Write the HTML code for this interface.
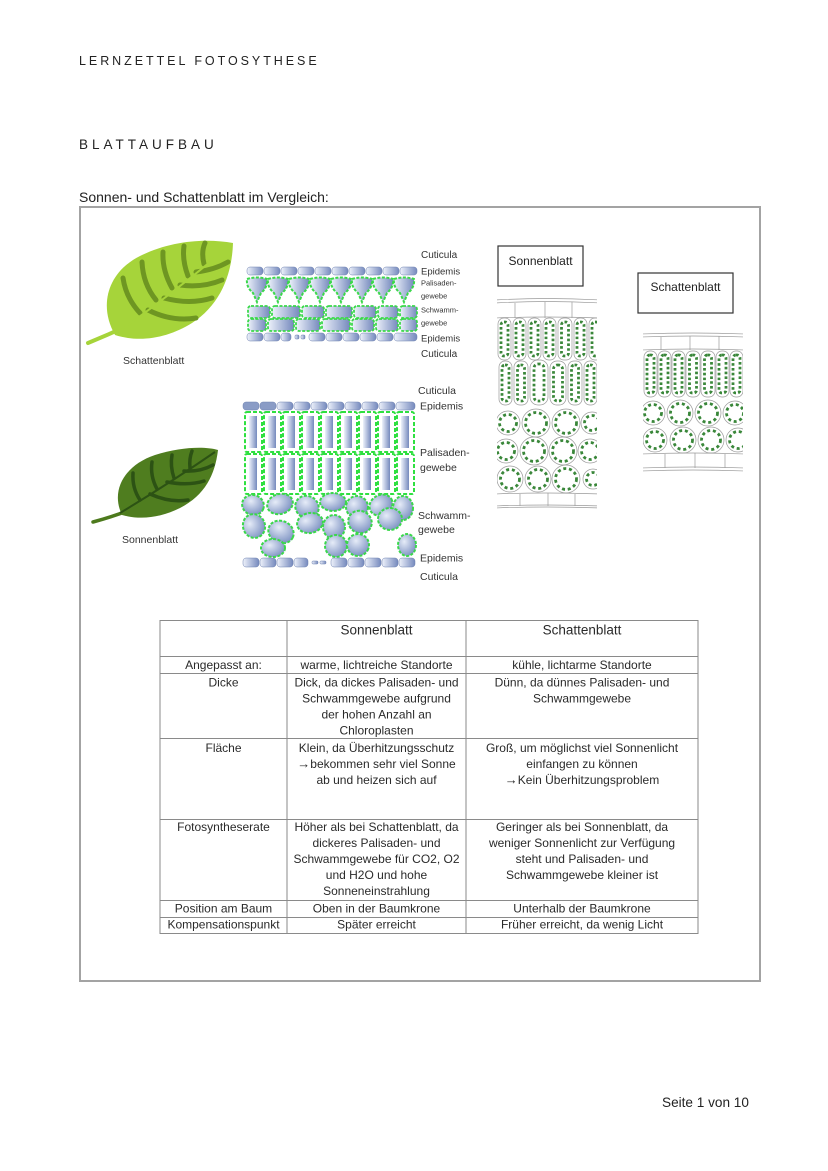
<!DOCTYPE html>
<html><head><meta charset="utf-8"><style>
html,body{margin:0;padding:0;background:#fff;}
body{width:828px;height:1171px;overflow:hidden;}
svg{display:block;font-family:"Liberation Sans",Arial,sans-serif;}
</style></head><body>
<svg width="828" height="1171" viewBox="0 0 828 1171" xmlns="http://www.w3.org/2000/svg">
<defs>
 <linearGradient id="cg" x1="0" y1="0" x2="1" y2="0"><stop offset="0" stop-color="#eef2fb"/><stop offset="1" stop-color="#7589bd"/></linearGradient>
 <radialGradient id="bg" cx="0.35" cy="0.35" r="0.8"><stop offset="0" stop-color="#e6ecf8"/><stop offset="1" stop-color="#6f86bb"/></radialGradient>
 <clipPath id="c1"><rect x="497" y="296" width="100" height="214"/></clipPath>
 <clipPath id="c2"><rect x="643" y="330" width="100" height="144"/></clipPath>
</defs>

<!-- headings -->
<text x="79" y="65" font-size="12.5" letter-spacing="2.95" fill="#222">LERNZETTEL FOTOSYTHESE</text>
<text x="79" y="149" font-size="13.5" letter-spacing="4" fill="#222">BLATTAUFBAU</text>
<text x="79" y="202" font-size="14" fill="#222">Sonnen- und Schattenblatt im Vergleich:</text>

<!-- outer box -->
<rect x="80" y="207" width="680" height="774" fill="none" stroke="#a3a3a3" stroke-width="2"/>

<!-- Leaf 1 (Schattenblatt) -->
<path d="M88,343 Q120,330 150,315" stroke="#a6d43a" stroke-width="4" fill="none" stroke-linecap="round"/>
<path d="M115,335 C98,305 108,272 140,256 C170,241 205,238 233,243 C232,275 220,305 192,323 C168,338 140,343 115,335 Z" fill="#a6d43a"/>
<g stroke="#6e9622" stroke-width="5" stroke-linecap="round" fill="none">
 <path d="M140,313 Q126,298 123,278"/>
 <path d="M156,300 Q143,284 142,262"/>
 <path d="M172,288 Q162,270 163,252"/>
 <path d="M188,276 Q182,260 184,246"/>
 <path d="M204,264 Q201,252 205,243"/>
 <path d="M148,310 Q172,322 196,318"/>
 <path d="M164,298 Q190,305 212,298"/>
 <path d="M180,285 Q203,288 222,280"/>
 <path d="M196,272 Q214,270 228,262"/>
</g>
<path d="M118,332 Q175,292 228,247" stroke="#a6d43a" stroke-width="2" fill="none"/>
<text x="123" y="364" font-size="10.5" fill="#333">Schattenblatt</text>

<!-- Leaf 2 (Sonnenblatt) -->
<path d="M93,522 Q115,516 135,508" stroke="#4d7a1d" stroke-width="3.5" fill="none" stroke-linecap="round"/>
<path d="M122,515 C110,490 125,465 155,455 C180,447 205,446 218,450 C215,475 205,495 180,508 C160,518 140,520 122,515 Z" fill="#4f7d1f"/>
<g stroke="#2c5214" stroke-width="3.5" stroke-linecap="round" fill="none">
 <path d="M140,500 Q132,488 133,473"/>
 <path d="M157,489 Q150,476 152,462"/>
 <path d="M174,478 Q170,466 172,455"/>
 <path d="M190,468 Q189,459 192,451"/>
 <path d="M150,494 Q170,503 188,500"/>
 <path d="M167,482 Q188,486 204,481"/>
 <path d="M184,471 Q200,472 213,465"/>
</g>
<path d="M120,513 Q170,483 215,452" stroke="#2c5214" stroke-width="2" fill="none"/>
<text x="122" y="543" font-size="10.5" fill="#333">Sonnenblatt</text>

<!-- Cross section 1 (small, Schatten) -->
<g stroke="#6f82b0" stroke-width="0.5" fill="url(#cg)">
 <rect x="247" y="267" width="16" height="8" rx="3"/><rect x="264" y="267" width="16" height="8" rx="3"/>
 <rect x="281" y="267" width="16" height="8" rx="3"/><rect x="298" y="267" width="16" height="8" rx="3"/>
 <rect x="315" y="267" width="16" height="8" rx="3"/><rect x="332" y="267" width="16" height="8" rx="3"/>
 <rect x="349" y="267" width="16" height="8" rx="3"/><rect x="366" y="267" width="16" height="8" rx="3"/>
 <rect x="383" y="267" width="16" height="8" rx="3"/><rect x="400" y="267" width="17" height="8" rx="3"/>
</g>
<g fill="url(#cg)" stroke="#3ad84a" stroke-width="2" stroke-dasharray="3 1.5">
 <path d="M247,279 Q257,276 267,279 Q268,287 261,293 L257,302 L253,293 Q246,287 247,279 Z"/>
 <path d="M268,279 Q278,276 288,279 Q289,287 282,293 L278,302 L274,293 Q267,287 268,279 Z"/>
 <path d="M289,279 Q299,276 309,279 Q310,287 303,293 L299,302 L295,293 Q288,287 289,279 Z"/>
 <path d="M310,279 Q320,276 330,279 Q331,287 324,293 L320,302 L316,293 Q309,287 310,279 Z"/>
 <path d="M331,279 Q341,276 351,279 Q352,287 345,293 L341,302 L337,293 Q330,287 331,279 Z"/>
 <path d="M352,279 Q362,276 372,279 Q373,287 366,293 L362,302 L358,293 Q351,287 352,279 Z"/>
 <path d="M373,279 Q383,276 393,279 Q394,287 387,293 L383,302 L379,293 Q372,287 373,279 Z"/>
 <path d="M394,279 Q404,276 414,279 Q415,287 408,293 L404,302 L400,293 Q393,287 394,279 Z"/>
</g>
<g fill="url(#cg)" stroke="#3ad84a" stroke-width="1.8" stroke-dasharray="3 1.5">
 <rect x="248" y="306" width="22" height="12" rx="3"/><rect x="272" y="306" width="28" height="12" rx="3"/>
 <rect x="302" y="306" width="22" height="12" rx="3"/><rect x="326" y="306" width="26" height="12" rx="3"/>
 <rect x="354" y="306" width="22" height="12" rx="3"/><rect x="378" y="306" width="20" height="12" rx="3"/>
 <rect x="400" y="306" width="17" height="12" rx="3"/>
 <rect x="248" y="319" width="18" height="12" rx="3"/><rect x="268" y="319" width="26" height="12" rx="3"/>
 <rect x="296" y="319" width="24" height="12" rx="3"/><rect x="322" y="319" width="28" height="12" rx="3"/>
 <rect x="352" y="319" width="22" height="12" rx="3"/><rect x="376" y="319" width="22" height="12" rx="3"/>
 <rect x="400" y="319" width="17" height="12" rx="3"/>
</g>
<g stroke="#6f82b0" stroke-width="0.5" fill="url(#cg)">
 <rect x="247" y="333" width="16" height="8" rx="3"/><rect x="264" y="333" width="16" height="8" rx="3"/>
 <rect x="281" y="333" width="10" height="8" rx="3"/>
 <rect x="295" y="335" width="4" height="4" rx="1"/><rect x="301" y="335" width="4" height="4" rx="1"/>
 <rect x="309" y="333" width="16" height="8" rx="3"/><rect x="326" y="333" width="16" height="8" rx="3"/>
 <rect x="343" y="333" width="16" height="8" rx="3"/><rect x="360" y="333" width="16" height="8" rx="3"/>
 <rect x="377" y="333" width="16" height="8" rx="3"/><rect x="394" y="333" width="23" height="8" rx="3"/>
</g>
<g fill="#333">
 <text x="421" y="258" font-size="10">Cuticula</text>
 <text x="421" y="274.5" font-size="9.5">Epidemis</text>
 <text x="421" y="285.5" font-size="7.5">Palisaden-</text>
 <text x="421" y="298.5" font-size="7.5">gewebe</text>
 <text x="421" y="312.5" font-size="7.5">Schwamm-</text>
 <text x="421" y="325.5" font-size="7.5">gewebe</text>
 <text x="421" y="341.5" font-size="9.5">Epidemis</text>
 <text x="421" y="357" font-size="10">Cuticula</text>
</g>

<!-- Cross section 2 (big, Sonnen) -->
<g stroke="#6f82b0" stroke-width="0.5" fill="url(#cg)">
 <rect x="243" y="402" width="16" height="8" rx="3" fill="#8a9cc6"/><rect x="260" y="402" width="16" height="8" rx="3" fill="#8a9cc6"/>
 <rect x="277" y="402" width="16" height="8" rx="3"/><rect x="294" y="402" width="16" height="8" rx="3"/>
 <rect x="311" y="402" width="16" height="8" rx="3"/><rect x="328" y="402" width="16" height="8" rx="3"/>
 <rect x="345" y="402" width="16" height="8" rx="3"/><rect x="362" y="402" width="16" height="8" rx="3"/>
 <rect x="379" y="402" width="16" height="8" rx="3"/><rect x="396" y="402" width="19" height="8" rx="3"/>
</g>
<g>
 <g fill="url(#cg)">
  <rect x="249" y="416" width="8" height="32"/><rect x="268" y="416" width="8" height="32"/><rect x="287" y="416" width="8" height="32"/>
  <rect x="306" y="416" width="8" height="32"/><rect x="325" y="416" width="8" height="32"/><rect x="344" y="416" width="8" height="32"/>
  <rect x="363" y="416" width="8" height="32"/><rect x="382" y="416" width="8" height="32"/><rect x="401" y="416" width="8" height="32"/>
  <rect x="249" y="458" width="8" height="32"/><rect x="268" y="458" width="8" height="32"/><rect x="287" y="458" width="8" height="32"/>
  <rect x="306" y="458" width="8" height="32"/><rect x="325" y="458" width="8" height="32"/><rect x="344" y="458" width="8" height="32"/>
  <rect x="363" y="458" width="8" height="32"/><rect x="382" y="458" width="8" height="32"/><rect x="401" y="458" width="8" height="32"/>
 </g>
 <g fill="none" stroke="#2fe040" stroke-width="2" stroke-dasharray="4 2">
  <rect x="245" y="412" width="17" height="40" rx="2"/><rect x="264" y="412" width="17" height="40" rx="2"/><rect x="283" y="412" width="17" height="40" rx="2"/>
  <rect x="302" y="412" width="17" height="40" rx="2"/><rect x="321" y="412" width="17" height="40" rx="2"/><rect x="340" y="412" width="17" height="40" rx="2"/>
  <rect x="359" y="412" width="17" height="40" rx="2"/><rect x="378" y="412" width="17" height="40" rx="2"/><rect x="397" y="412" width="17" height="40" rx="2"/>
  <rect x="245" y="454" width="17" height="40" rx="2"/><rect x="264" y="454" width="17" height="40" rx="2"/><rect x="283" y="454" width="17" height="40" rx="2"/>
  <rect x="302" y="454" width="17" height="40" rx="2"/><rect x="321" y="454" width="17" height="40" rx="2"/><rect x="340" y="454" width="17" height="40" rx="2"/>
  <rect x="359" y="454" width="17" height="40" rx="2"/><rect x="378" y="454" width="17" height="40" rx="2"/><rect x="397" y="454" width="17" height="40" rx="2"/>
 </g>
</g>
<g fill="url(#bg)" stroke="#3ad84a" stroke-width="2" stroke-dasharray="3 1.5">
 <ellipse cx="253" cy="505" rx="11" ry="10" transform="rotate(20 253 505)"/>
 <ellipse cx="280" cy="504" rx="13" ry="10" transform="rotate(-15 280 504)"/>
 <ellipse cx="307" cy="507" rx="12" ry="11" transform="rotate(30 307 507)"/>
 <ellipse cx="333" cy="502" rx="13" ry="9"/>
 <ellipse cx="357" cy="507" rx="11" ry="11"/>
 <ellipse cx="381" cy="505" rx="12" ry="10" transform="rotate(-30 381 505)"/>
 <ellipse cx="403" cy="508" rx="10" ry="12"/>
 <ellipse cx="254" cy="526" rx="11" ry="12" transform="rotate(-20 254 526)"/>
 <ellipse cx="281" cy="532" rx="13" ry="11" transform="rotate(25 281 532)"/>
 <ellipse cx="310" cy="523" rx="13" ry="10" transform="rotate(-10 310 523)"/>
 <ellipse cx="334" cy="527" rx="11" ry="12"/>
 <ellipse cx="360" cy="522" rx="12" ry="11" transform="rotate(30 360 522)"/>
 <ellipse cx="390" cy="519" rx="12" ry="11"/>
 <ellipse cx="273" cy="548" rx="12" ry="9"/>
 <ellipse cx="336" cy="546" rx="11" ry="11"/>
 <ellipse cx="358" cy="545" rx="11" ry="11" transform="rotate(20 358 545)"/>
 <ellipse cx="407" cy="545" rx="9" ry="11"/>
</g>
<g stroke="#6f82b0" stroke-width="0.5" fill="url(#cg)">
 <rect x="243" y="558" width="16" height="9" rx="3"/><rect x="260" y="558" width="16" height="9" rx="3"/>
 <rect x="277" y="558" width="16" height="9" rx="3"/><rect x="294" y="558" width="14" height="9" rx="3"/>
 <rect x="312" y="561" width="6" height="3" rx="1"/><rect x="320" y="561" width="6" height="3" rx="1"/>
 <rect x="331" y="558" width="16" height="9" rx="3"/><rect x="348" y="558" width="16" height="9" rx="3"/>
 <rect x="365" y="558" width="16" height="9" rx="3"/><rect x="382" y="558" width="16" height="9" rx="3"/>
 <rect x="399" y="558" width="16" height="9" rx="3"/>
</g>
<g fill="#333" font-size="10.5">
 <text x="418" y="394">Cuticula</text>
 <text x="420" y="409.5">Epidemis</text>
 <text x="420" y="456">Palisaden-</text>
 <text x="420" y="471">gewebe</text>
 <text x="418" y="519">Schwamm-</text>
 <text x="418" y="533">gewebe</text>
 <text x="420" y="561.5">Epidemis</text>
 <text x="420" y="580">Cuticula</text>
</g>

<!-- Label boxes -->
<rect x="498" y="246" width="85" height="40" fill="#fff" stroke="#333" stroke-width="1.2"/>
<text x="540.5" y="265" font-size="12" text-anchor="middle" fill="#222">Sonnenblatt</text>
<rect x="638" y="273" width="95" height="40" fill="#fff" stroke="#333" stroke-width="1.2"/>
<text x="685.5" y="291" font-size="12" text-anchor="middle" fill="#222">Schattenblatt</text>

<!-- Micrograph Sonnenblatt -->
<g clip-path="url(#c1)">
 <g fill="none" stroke="#9a9a9a" stroke-width="0.7">
  <path d="M495,300 Q547,297 600,300"/><path d="M495,303 Q547,300 600,303"/>
  <path d="M515,303 V318 M545,302 V318 M572,302 V318"/>
  <path d="M495,318 Q547,316 600,318"/>
  <rect x="498" y="318" width="13" height="42" rx="6"/><rect x="513" y="318" width="13" height="42" rx="6"/>
  <rect x="528" y="318" width="13" height="42" rx="6"/><rect x="543" y="318" width="13" height="42" rx="6"/>
  <rect x="558" y="318" width="14" height="42" rx="6"/><rect x="574" y="318" width="13" height="42" rx="6"/>
  <rect x="589" y="318" width="13" height="42" rx="6"/>
  <rect x="499" y="361" width="13" height="44" rx="6"/><rect x="514" y="361" width="14" height="44" rx="6"/>
  <rect x="530" y="360" width="18" height="45" rx="8"/><rect x="550" y="361" width="16" height="44" rx="7"/>
  <rect x="568" y="361" width="14" height="44" rx="6"/><rect x="584" y="361" width="13" height="44" rx="6"/>
  <circle cx="508" cy="423" r="12"/><circle cx="536" cy="423" r="14"/><circle cx="566" cy="423" r="14"/><circle cx="592" cy="423" r="11"/>
  <circle cx="506" cy="451" r="12"/><circle cx="534" cy="451" r="14"/><circle cx="563" cy="451" r="14"/><circle cx="590" cy="451" r="12"/>
  <circle cx="510" cy="479" r="13"/><circle cx="538" cy="479" r="13"/><circle cx="566" cy="479" r="14"/><circle cx="593" cy="479" r="10"/>
  <path d="M495,494 Q547,492 600,494"/>
  <path d="M520,494 V506 M548,493 V506 M575,494 V506"/>
  <path d="M495,506 Q547,504 600,506"/><path d="M495,508 Q547,506 600,508"/>
 </g>
 <g fill="none" stroke="#3a873a" stroke-width="2.8" stroke-dasharray="2.6 2.2">
  <rect x="501" y="322" width="7" height="34" rx="3"/><rect x="516" y="322" width="7" height="34" rx="3"/>
  <rect x="531" y="322" width="7" height="34" rx="3"/><rect x="546" y="322" width="7" height="34" rx="3"/>
  <rect x="561.5" y="322" width="7" height="34" rx="3"/><rect x="577" y="322" width="7" height="34" rx="3"/>
  <rect x="592" y="322" width="7" height="34" rx="3"/>
  <rect x="502" y="365" width="7" height="36" rx="3"/><rect x="517.5" y="365" width="7" height="36" rx="3"/>
  <rect x="534" y="364" width="10" height="37" rx="4"/><rect x="553.5" y="365" width="9" height="36" rx="4"/>
  <rect x="571.5" y="365" width="7" height="36" rx="3"/><rect x="587" y="365" width="7" height="36" rx="3"/>
 </g>
 <g fill="none" stroke="#3a873a" stroke-width="2.8" stroke-dasharray="3 2.8">
  <circle cx="508" cy="423" r="8.5"/><circle cx="536" cy="423" r="10.5"/><circle cx="566" cy="423" r="10.5"/><circle cx="592" cy="423" r="7.5"/>
  <circle cx="506" cy="451" r="8.5"/><circle cx="534" cy="451" r="10.5"/><circle cx="563" cy="451" r="10.5"/><circle cx="590" cy="451" r="8.5"/>
  <circle cx="510" cy="479" r="9.5"/><circle cx="538" cy="479" r="9.5"/><circle cx="566" cy="479" r="10.5"/><circle cx="593" cy="479" r="6.5"/>
 </g>
</g>

<!-- Micrograph Schattenblatt -->
<g clip-path="url(#c2)">
 <g fill="none" stroke="#9a9a9a" stroke-width="0.7">
  <path d="M641,334 Q693,332 745,334"/><path d="M641,337 Q693,335 745,337"/>
  <path d="M661,337 V350 M690,336 V350 M719,336 V350"/>
  <path d="M641,350 Q693,348 745,350"/>
  <rect x="644" y="351" width="13" height="46" rx="6"/><rect x="658" y="351" width="13" height="46" rx="6"/>
  <rect x="672" y="351" width="13" height="46" rx="6"/><rect x="686" y="351" width="14" height="46" rx="6"/>
  <rect x="701" y="351" width="14" height="46" rx="6"/><rect x="716" y="351" width="13" height="46" rx="6"/>
  <rect x="730" y="351" width="13" height="46" rx="6"/>
  <circle cx="653" cy="413" r="12"/><circle cx="680" cy="413" r="13"/><circle cx="708" cy="413" r="13"/><circle cx="735" cy="413" r="12"/>
  <circle cx="655" cy="440" r="12"/><circle cx="683" cy="440" r="13"/><circle cx="711" cy="440" r="13"/><circle cx="738" cy="440" r="12"/>
  <path d="M641,454 Q693,452 745,454"/>
  <path d="M665,454 V468 M695,453 V468 M725,454 V468"/>
  <path d="M641,468 Q693,466 745,468"/><path d="M641,471 Q693,469 745,471"/>
 </g>
 <g fill="none" stroke="#3a873a" stroke-width="2.8" stroke-dasharray="2.6 2.2">
  <rect x="647" y="355" width="7" height="38" rx="3"/><rect x="661" y="355" width="7" height="38" rx="3"/>
  <rect x="675" y="355" width="7" height="38" rx="3"/><rect x="689.5" y="355" width="7" height="38" rx="3"/>
  <rect x="704.5" y="355" width="7" height="38" rx="3"/><rect x="719" y="355" width="7" height="38" rx="3"/>
  <rect x="733" y="355" width="7" height="38" rx="3"/>
 </g>
 <g fill="none" stroke="#3a873a" stroke-width="2.8" stroke-dasharray="3 2.8">
  <circle cx="653" cy="413" r="8.5"/><circle cx="680" cy="413" r="9.5"/><circle cx="708" cy="413" r="9.5"/><circle cx="735" cy="413" r="8.5"/>
  <circle cx="655" cy="440" r="8.5"/><circle cx="683" cy="440" r="9.5"/><circle cx="711" cy="440" r="9.5"/><circle cx="738" cy="440" r="8.5"/>
 </g>
</g>

<!-- Table -->
<g stroke="#8a8a8a" stroke-width="1" fill="none">
 <rect x="160" y="620.5" width="538" height="313"/>
 <line x1="287" y1="620" x2="287" y2="934"/>
 <line x1="466" y1="620" x2="466" y2="934"/>
 <line x1="160" y1="656.5" x2="698" y2="656.5"/>
 <line x1="160" y1="673.5" x2="698" y2="673.5"/>
 <line x1="160" y1="738.5" x2="698" y2="738.5"/>
 <line x1="160" y1="819.5" x2="698" y2="819.5"/>
 <line x1="160" y1="900.5" x2="698" y2="900.5"/>
 <line x1="160" y1="917.5" x2="698" y2="917.5"/>
</g>
<g fill="#2a2a2a" font-size="12" text-anchor="middle">
 <text x="376.5" y="634.5" font-size="13.5">Sonnenblatt</text>
 <text x="582" y="634.5" font-size="13.5">Schattenblatt</text>

 <text x="223.5" y="669">Angepasst an:</text>
 <text x="376.5" y="669">warme, lichtreiche Standorte</text>
 <text x="582" y="669">kühle, lichtarme Standorte</text>

 <text x="223.5" y="686.5">Dicke</text>
 <text x="376.5" y="686.5">Dick, da dickes Palisaden- und</text>
 <text x="376.5" y="702.5">Schwammgewebe aufgrund</text>
 <text x="376.5" y="718.5">der hohen Anzahl an</text>
 <text x="376.5" y="734.5">Chloroplasten</text>
 <text x="582" y="686.5">Dünn, da dünnes Palisaden- und</text>
 <text x="582" y="702.5">Schwammgewebe</text>

 <text x="223.5" y="752">Fläche</text>
 <text x="376.5" y="752">Klein, da Überhitzungsschutz</text>
 <text x="376.5" y="768"><tspan font-weight="bold" font-size="13">→</tspan>bekommen sehr viel Sonne</text>
 <text x="376.5" y="784">ab und heizen sich auf</text>
 <text x="582" y="752">Groß, um möglichst viel Sonnenlicht</text>
 <text x="582" y="768">einfangen zu können</text>
 <text x="582" y="784"><tspan font-weight="bold" font-size="13">→</tspan>Kein Überhitzungsproblem</text>

 <text x="223.5" y="831">Fotosyntheserate</text>
 <text x="376.5" y="831">Höher als bei Schattenblatt, da</text>
 <text x="376.5" y="847">dickeres Palisaden- und</text>
 <text x="376.5" y="863">Schwammgewebe für CO2, O2</text>
 <text x="376.5" y="879">und H2O und hohe</text>
 <text x="376.5" y="895">Sonneneinstrahlung</text>
 <text x="582" y="831">Geringer als bei Sonnenblatt, da</text>
 <text x="582" y="847">weniger Sonnenlicht zur Verfügung</text>
 <text x="582" y="863">steht und Palisaden- und</text>
 <text x="582" y="879">Schwammgewebe kleiner ist</text>

 <text x="223.5" y="912.5">Position am Baum</text>
 <text x="376.5" y="912.5">Oben in der Baumkrone</text>
 <text x="582" y="912.5">Unterhalb der Baumkrone</text>

 <text x="223.5" y="928.5">Kompensationspunkt</text>
 <text x="376.5" y="928.5">Später erreicht</text>
 <text x="582" y="928.5">Früher erreicht, da wenig Licht</text>
</g>

<!-- Footer -->
<text x="662" y="1107" font-size="13.6" fill="#222">Seite 1 von 10</text>
</svg>
</body></html>
